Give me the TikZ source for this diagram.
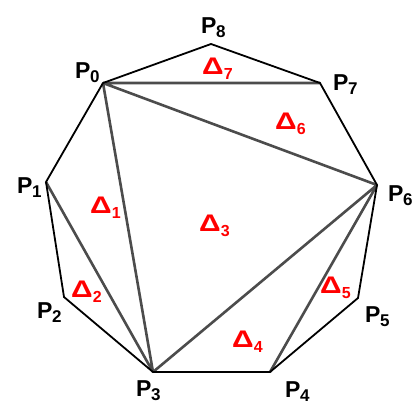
\documentclass[tikz,border=0pt]{standalone}
\usepackage{fontspec}
\usepackage{graphicx}
\setmainfont{Liberation Sans}
\newcommand{\lowidx}[1]{\kern-0.5pt\raisebox{-0.35ex}{\fontsize{17}{17}\selectfont #1}}
\newcommand{\tname}[1]{\scalebox{1.25}[1]{Δ}\raisebox{-0.4ex}{\fontsize{16}{16}\selectfont #1}}
\begin{document}
\begin{tikzpicture}[x=1pt,y=-1pt,every node/.style={inner sep=0pt,anchor=base west,font=\fontsize{23}{25}\selectfont\bfseries},
  tri/.style={red,font=\fontsize{24}{26}\selectfont\bfseries}]
  \useasboundingbox (0,0) rectangle (413,405);
  % vertices
  \coordinate (p0) at (103,83);
  \coordinate (p1) at (46,182);
  \coordinate (p2) at (64,297);
  \coordinate (p3) at (153,372);
  \coordinate (p4) at (270,372);
  \coordinate (p5) at (358,298);
  \coordinate (p6) at (377,185);
  \coordinate (p7) at (320,83);
  \coordinate (p8) at (211,44);
  % diagonals
  \draw[line width=2.6pt,black!70] (p0) -- (p7) (p0) -- (p6) (p0) -- (p3) (p1) -- (p3) (p3) -- (p6) (p4) -- (p6);
  \draw[line width=1.8pt,line join=miter] (p0) -- (p1) -- (p2) -- (p3) -- (p4) -- (p5) -- (p6) -- (p7) -- (p8) -- cycle;
  % point labels
  \node (l0) at (75,78) {P\lowidx{0}};
  \node (l1) at (17,193) {P\lowidx{1}};
  \node (l2) at (37,318) {P\lowidx{2}};
  \node (l3) at (136,396) {P\lowidx{3}};
  \node (l4) at (285,397) {P\lowidx{4}};
  \node (l5) at (365,322) {P\lowidx{5}};
  \node (l6) at (388,201) {P\lowidx{6}};
  \node (l7) at (333,90) {P\lowidx{7}};
  \node (l8) at (201,33) {P\lowidx{8}};
  % triangles
  \node[tri] (t1) at (90,213) {\tname{1}};
  \node[tri] (t2) at (71,297) {\tname{2}};
  \node[tri] (t3) at (199,231) {\tname{3}};
  \node[tri] (t4) at (232,347) {\tname{4}};
  \node[tri] (t5) at (320,293) {\tname{5}};
  \node[tri] (t6) at (275,129) {\tname{6}};
  \node[tri] (t7) at (202,74) {\tname{7}};
\end{tikzpicture}
\end{document}
